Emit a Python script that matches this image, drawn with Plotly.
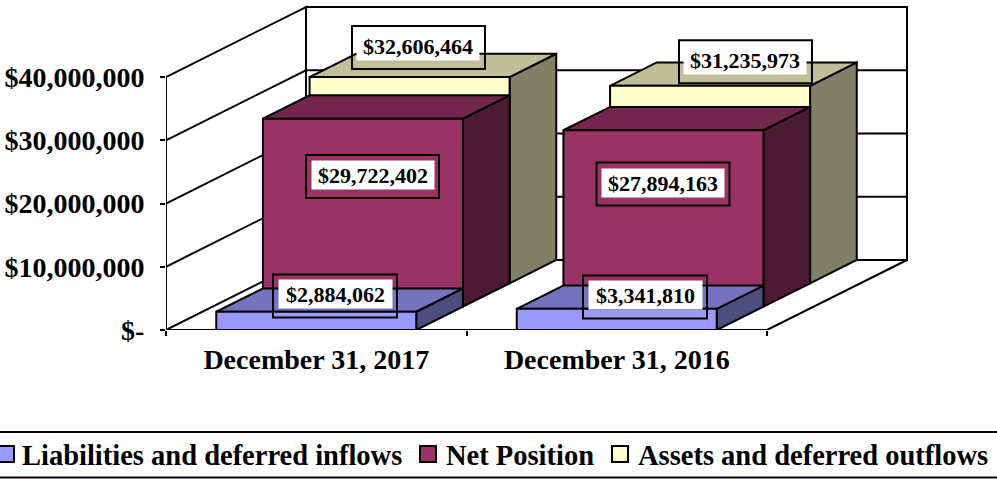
import plotly.graph_objects as go

# ---------------- data ----------------
categories = ["December 31, 2017", "December 31, 2016"]
series_names = ["Liabilities and deferred inflows", "Net Position", "Assets and deferred outflows"]
liabilities = [2884062, 3341810]
net_position = [29722402, 27894163]
assets = [32606464, 31235973]
value_ticks = [0, 10000000, 20000000, 30000000, 40000000]
value_tick_labels = ["$-", "$10,000,000", "$20,000,000", "$30,000,000", "$40,000,000"]

# ---------------- style / geometry ----------------
W, H = 997, 479
L_MARGIN, B_MARGIN = 166, 149
PLOT_H = H - B_MARGIN                     # 330 px
CAT_PX = 300.5                            # pixels per category
PX_PER_DOLLAR = 253 / 40e6
FONT = "Liberation Serif, Times New Roman, serif"
LABEL_FS = 22

DEPTH_DX = 140 / CAT_PX                   # full depth offset (category units)
DEPTH_DY = 70 / PX_PER_DOLLAR             # full depth offset (value units)
N_ROWS = 3
BAR_W = 200 / CAT_PX
GAP = (1 - BAR_W) / 2
WALL_TOP = value_ticks[-1]

colors = {
    "front": ["#9999FF", "#993366", "#FFFFCC"],
    "top":   ["#7373BF", "#73264D", "#BFBF99"],
    "side":  ["#4D4D80", "#4D1A33", "#808066"],
}
# data-label offsets (pixels, dx right / dy down) from each bar's front-top centre
label_offsets = [
    [(18.75, -15.8), (28.25, -11.9)],
    [(9.6, 57.8), (-0.4, 53.8)],
    [(8.9, -29.6), (35.4, -24.1)],
]

series_values = [liabilities, net_position, assets]

fig = go.Figure()


def poly(xs, ys, fill, lw=2):
    fig.add_trace(go.Scatter(
        x=list(xs) + [xs[0]], y=list(ys) + [ys[0]], mode="lines", fill="toself",
        fillcolor=fill, line=dict(color="black", width=lw), hoverinfo="skip",
        showlegend=False))


def line(xs, ys, lw=2):
    fig.add_trace(go.Scatter(x=xs, y=ys, mode="lines", line=dict(color="black", width=lw),
                             hoverinfo="skip", showlegend=False))


ncat = len(categories)
# walls and floor
poly([0, DEPTH_DX, DEPTH_DX, 0], [0, DEPTH_DY, DEPTH_DY + WALL_TOP, WALL_TOP], "white")
poly([DEPTH_DX, ncat + DEPTH_DX, ncat + DEPTH_DX, DEPTH_DX],
     [DEPTH_DY, DEPTH_DY, DEPTH_DY + WALL_TOP, DEPTH_DY + WALL_TOP], "white")
poly([0, ncat, ncat + DEPTH_DX, DEPTH_DX], [0, 0, DEPTH_DY, DEPTH_DY], "white")
for v in value_ticks[1:-1]:
    line([0, DEPTH_DX, ncat + DEPTH_DX], [v, DEPTH_DY + v, DEPTH_DY + v])

# bars: back row first
for d in reversed(range(N_ROWS)):
    vals = series_values[d]
    for c in reversed(range(ncat)):
        v = vals[c]
        dx0, dy0 = d * DEPTH_DX / N_ROWS, d * DEPTH_DY / N_ROWS
        dx1, dy1 = (d + 1) * DEPTH_DX / N_ROWS, (d + 1) * DEPTH_DY / N_ROWS
        x0, x1 = c + GAP, c + GAP + BAR_W
        poly([x1 + dx0, x1 + dx1, x1 + dx1, x1 + dx0], [dy0, dy1, dy1 + v, dy0 + v], colors["side"][d])
        poly([x0 + dx0, x1 + dx0, x1 + dx1, x0 + dx1], [dy0 + v, dy0 + v, dy1 + v, dy1 + v], colors["top"][d])
        poly([x0 + dx0, x1 + dx0, x1 + dx0, x0 + dx0], [dy0, dy0, dy0 + v, dy0 + v], colors["front"][d])

# data labels
shapes = []
annotations = []
for d in range(N_ROWS):
    for c in range(ncat):
        v = series_values[d][c]
        cx = c + 0.5 + d * DEPTH_DX / N_ROWS + label_offsets[d][c][0] / CAT_PX
        cy = d * DEPTH_DY / N_ROWS + v - label_offsets[d][c][1] / PX_PER_DOLLAR
        text = "${:,}".format(v)
        box_w = 9 * len(text) + 34
        box_h = 43
        shapes.append(dict(type="rect", xref="x", yref="y",
                           x0=cx - box_w / 2 / CAT_PX, x1=cx + box_w / 2 / CAT_PX,
                           y0=cy - box_h / 2 / PX_PER_DOLLAR, y1=cy + box_h / 2 / PX_PER_DOLLAR,
                           line=dict(color="black", width=2), fillcolor="rgba(0,0,0,0)"))
        annotations.append(dict(x=cx, y=cy + 1.5 / PX_PER_DOLLAR, xref="x", yref="y",
                                text="<b>" + text + "</b>",
                                showarrow=False, bgcolor="white", width=box_w - 11, height=28,
                                borderpad=0, font=dict(family=FONT, size=LABEL_FS, color="black")))


# legend (drawn manually along the bottom)
def paper_x(px):
    return (px - L_MARGIN) / (W - L_MARGIN)


def paper_y(py):
    return (PLOT_H - py) / PLOT_H


shapes.append(dict(type="rect", xref="paper", yref="paper", x0=paper_x(-2), x1=paper_x(999),
                   y0=paper_y(477.5), y1=paper_y(432), line=dict(color="black", width=2),
                   fillcolor="rgba(0,0,0,0)"))
legend_sq_x = [-2, 420, 612]
legend_txt_x = [20, 444, 636]
for i, name in enumerate(series_names):
    shapes.append(dict(type="rect", xref="paper", yref="paper",
                       x0=paper_x(legend_sq_x[i]), x1=paper_x(legend_sq_x[i] + 16),
                       y0=paper_y(462), y1=paper_y(446), fillcolor=colors["front"][i],
                       line=dict(color="black", width=2)))
    annotations.append(dict(x=paper_x(legend_txt_x[i]), y=paper_y(455), xref="paper", yref="paper",
                            xanchor="left", yanchor="middle", text="<b>" + name + "</b>",
                            showarrow=False, font=dict(family=FONT, size=28.5, color="black")))

fig.update_layout(
    width=W, height=H,
    margin=dict(l=L_MARGIN, r=0, t=0, b=B_MARGIN, pad=0, autoexpand=False),
    paper_bgcolor="white", plot_bgcolor="white",
    showlegend=False,
    shapes=shapes, annotations=annotations,
    font=dict(family=FONT, color="black"),
    xaxis=dict(range=[0, (W - L_MARGIN) / CAT_PX], tickvals=[c + 0.5 for c in range(ncat)],
               ticktext=["<b>" + t + "</b>" for t in categories], ticks="",
               tickfont=dict(family=FONT, size=28, color="black"),
               showgrid=False, zeroline=False, showline=False, fixedrange=True,
               automargin=False, ticklabelstandoff=10,
               minor=dict(tickvals=list(range(ncat + 1)), ticks="outside", ticklen=5,
                          tickwidth=2, tickcolor="black", showgrid=False)),
    yaxis=dict(range=[0, PLOT_H / PX_PER_DOLLAR], tickvals=value_ticks,
               ticktext=["<b>" + t + "</b>" for t in value_tick_labels],
               ticks="outside", ticklen=5, tickwidth=2, tickcolor="black",
               tickfont=dict(family=FONT, size=28, color="black"),
               showgrid=False, zeroline=False, showline=False, fixedrange=True,
               automargin=False, ticklabelstandoff=10),
)

fig.write_html("out.html", config={"displayModeBar": False},
               post_script="document.body.style.margin='0';")
